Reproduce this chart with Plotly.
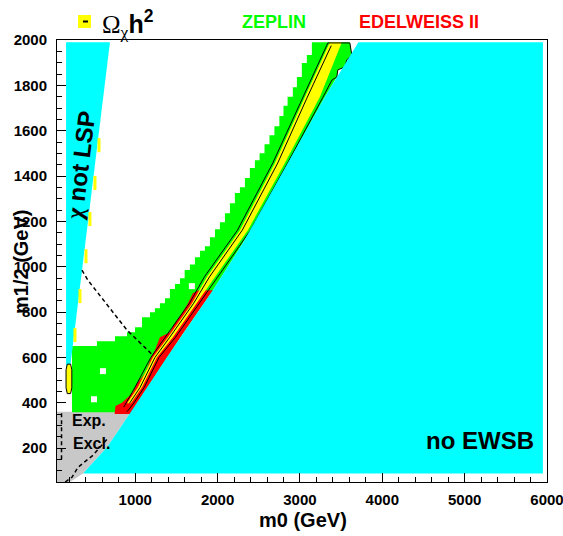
import plotly.graph_objects as go

# ---------------- data (m0, m1/2 in GeV) ----------------
# no-EWSB boundary, bottom -> top
EWSB_M0 = [366, 657, 839, 1021, 1203, 1385, 1567, 1943, 2307, 2878, 3302, 3710]
EWSB_M12 = [88, 203, 300, 397, 499, 600, 698, 896, 1104, 1470, 1748, 1990]
EWSB_RIGHT_M0 = 5950
EWSB_BOTTOM_M12 = 88

# chi not LSP wedge
NOTLSP_M0 = [160, 160, 693, 353, 208]
NOTLSP_M12 = [552, 1990, 1990, 985, 552]

# experimental exclusion (grey)
EXCL_M0 = [50, 50, 950, 839, 657, 366, 208]
EXCL_M12 = [50, 360, 360, 300, 203, 88, 50]

# ZEPLIN region: staircase upper-left edge steps
ZEP_STEP_M0 = [232, 535, 754, 900, 997, 1082, 1179, 1239, 1300, 1361, 1421, 1482,
               1543, 1600, 1664, 1725, 1786, 1846, 1907, 1968, 2028, 2089, 2150,
               2210, 2271, 2332, 2392, 2453, 2510, 2570, 2630, 2690, 2750, 2800,
               2850, 2914, 2963, 3023, 3084, 3145]
ZEP_STEP_M12 = [650, 671, 693, 711, 733, 777, 799, 817, 839, 861, 901, 923,
                949, 985, 1010, 1042, 1070, 1090, 1130, 1165, 1196, 1236, 1280,
                1325, 1350, 1391, 1435, 1470, 1500, 1540, 1580, 1620, 1665, 1710,
                1750, 1792, 1837, 1898, 1934, 1990]
ZEP_BOTTOM_M12 = 358
ZEP_RIGHT_M0 = [3606, 3630, 3570, 3545, 3460, 3448, 3302, 2878, 2307, 1943, 1567, 1385, 1203, 1021, 950]
ZEP_RIGHT_M12 = [1990, 1934, 1912, 1881, 1868, 1837, 1748, 1470, 1104, 896, 698, 600, 499, 397, 358]

# EDELWEISS II region
EDEL_M0 = [750, 760, 839, 930, 972, 1021, 1100, 1142, 1179, 1239, 1300, 1360, 1421, 1482,
           1567, 1640, 1700, 1760, 1943, 1567, 1385, 1203, 1021, 950]
EDEL_M12 = [350, 385, 400, 430, 445, 486, 520, 545, 587, 631, 689, 700, 711, 751,
            795, 839, 883, 895, 896, 698, 600, 499, 397, 350]

# relic density band (Omega h^2)
OMEGA_M0 = [900, 1033, 1215, 1397, 1689, 1870, 2271, 2696, 3060, 3363,
            3509, 3242, 2817, 2368, 1968, 1749, 1458, 1264, 1082, 948]
OMEGA_M12 = [397, 468, 600, 689, 839, 954, 1161, 1457, 1748, 1990,
             1990, 1748, 1457, 1161, 954, 839, 689, 600, 468, 397]

# contour lines around the band
CONT_OUT_M0 = [860, 1000, 1190, 1370, 1660, 1840, 2240, 2670, 3035, 3339, 3606, 3630, 3570,
               3545, 3460, 3448, 3388, 3280, 2850, 2400, 2000, 1780, 1490, 1290, 1110, 980, 900]
CONT_OUT_M12 = [380, 470, 600, 690, 840, 955, 1160, 1457, 1748, 1987, 1987, 1934, 1912,
                1881, 1868, 1837, 1823, 1748, 1457, 1161, 954, 839, 689, 600, 468, 397, 360]
CONT_IN_M0 = [930, 1060, 1240, 1420, 1710, 1900, 2300, 2730, 3090, 3380]
CONT_IN_M12 = [397, 468, 600, 689, 839, 954, 1161, 1457, 1748, 1975]

# dashed contours
DASH1_M0 = [353, 426, 900, 1215]
DASH1_M12 = [985, 940, 720, 609]
DASH2_M0 = [150, 232, 305, 487, 669]
DASH2_M12 = [50, 71, 115, 168, 243]
DASH3_M0 = [105, 105]
DASH3_M12 = [150, 355]

# small holes in ZEPLIN region
HOLE_M0 = [608, 499, 1688]
HOLE_M12 = [539, 415, 914]

# small Omega h^2 points near the chi-not-LSP wedge
OMPT_M0 = [560, 511, 450, 402, 329, 268]
OMPT_M12 = [1536, 1369, 1210, 1046, 870, 698]
BLOB_M0 = [175, 160, 160, 175, 215, 230, 230, 215, 175]
BLOB_M12 = [440, 465, 545, 570, 570, 545, 465, 440, 440]

X_TICKS = [1000, 2000, 3000, 4000, 5000, 6000]
Y_TICKS = [200, 400, 600, 800, 1000, 1200, 1400, 1600, 1800, 2000]

CYAN = "#00ffff"
GREEN = "#00ff00"
YELLOW = "#ffff00"
RED = "#ff0000"
GREY = "#c8c8c8"

# ---------------- build polygons ----------------
zx = [ZEP_STEP_M0[0]]
zy = [ZEP_BOTTOM_M12]
prev_y = ZEP_BOTTOM_M12
for i in range(len(ZEP_STEP_M0)):
    zx += [ZEP_STEP_M0[i], ZEP_STEP_M0[i]]
    zy += [prev_y, ZEP_STEP_M12[i]]
    prev_y = ZEP_STEP_M12[i]
zx += ZEP_RIGHT_M0
zy += ZEP_RIGHT_M12

ewsb_x = EWSB_M0 + [EWSB_RIGHT_M0, EWSB_RIGHT_M0]
ewsb_y = EWSB_M12 + [EWSB_M12[-1], EWSB_BOTTOM_M12]

fig = go.Figure()


def poly(x, y, color, line=None):
    fig.add_trace(go.Scatter(
        x=x, y=y, fill="toself", fillcolor=color, mode="lines",
        line=line if line else dict(width=0, color=color),
        hoverinfo="skip", showlegend=False))


poly(EXCL_M0, EXCL_M12, GREY)
poly(zx, zy, GREEN)
poly(EDEL_M0, EDEL_M12, RED)
poly(OMEGA_M0, OMEGA_M12, YELLOW)

fig.add_trace(go.Scatter(x=HOLE_M0, y=HOLE_M12, mode="markers",
                         marker=dict(symbol="square", size=6, color="white"),
                         hoverinfo="skip", showlegend=False))

for cx, cy in [(CONT_OUT_M0, CONT_OUT_M12), (CONT_IN_M0, CONT_IN_M12)]:
    fig.add_trace(go.Scatter(x=cx, y=cy, mode="lines",
                             line=dict(color="black", width=1),
                             hoverinfo="skip", showlegend=False))

poly(ewsb_x, ewsb_y, CYAN)
poly(NOTLSP_M0, NOTLSP_M12, CYAN)

for dx, dy in [(DASH1_M0, DASH1_M12), (DASH2_M0, DASH2_M12), (DASH3_M0, DASH3_M12)]:
    fig.add_trace(go.Scatter(x=dx, y=dy, mode="lines",
                             line=dict(color="black", width=1.5, dash="4px,3px"),
                             hoverinfo="skip", showlegend=False))

fig.add_trace(go.Scatter(x=OMPT_M0, y=OMPT_M12, mode="markers",
                         marker=dict(symbol="line-ns-open", size=10, color=YELLOW,
                                     line=dict(color=YELLOW, width=3)),
                         hoverinfo="skip", showlegend=False))
poly(BLOB_M0, BLOB_M12, YELLOW, line=dict(color="black", width=1))

# ---------------- layout ----------------
L, R, T, B = 57, 16, 40, 54
W, H = 563, 536
PW, PH = W - L - R, H - T - B


def px(xp):
    return (xp - L) / PW


def py(yp):
    return (H - B - yp) / PH


axis_common = dict(
    showline=True, linecolor="black", linewidth=1, mirror=True, automargin=False,
    showgrid=False, zeroline=False, ticks="inside", ticklen=9,
    tickwidth=1, tickcolor="black", ticklabeloverflow="allow",
    tickfont=dict(family="Liberation Sans", size=15, color="black", weight="bold"),
)

fig.update_layout(
    width=W, height=H,
    margin=dict(l=L, r=R, t=T, b=B, autoexpand=False),
    plot_bgcolor="white", paper_bgcolor="white",
    xaxis=dict(range=[50, 6000], tickvals=X_TICKS, ticklabelstandoff=4,
               minor=dict(dtick=200, tick0=0, ticks="inside", ticklen=5, tickcolor="black"),
               **axis_common),
    yaxis=dict(range=[50, 2000], tickvals=Y_TICKS, ticklabelstandoff=6,
               minor=dict(dtick=50, tick0=0, ticks="inside", ticklen=5, tickcolor="black"),
               **axis_common),
    font=dict(family="Liberation Sans", color="black"),
)

bold = dict(family="Liberation Sans", color="black", weight="bold")
C = dict(xanchor="center", yanchor="middle", showarrow=False)
ann = [
    dict(x=px(303), y=py(520), xref="paper", yref="paper", text="m0 (GeV)",
         font=dict(size=20, **bold), **C),
    dict(x=px(21), y=py(262), xref="paper", yref="paper", text="m1/2 (GeV)",
         textangle=-90, font=dict(size=20, **bold), **C),
    dict(x=329, y=1448, xref="x", yref="y",
         text='<span style="font-family:Liberation Serif">χ</span> not LSP', textangle=-83,
         font=dict(size=24, **bold), **C),
    dict(x=208, y=322, xref="x", yref="y", text="Exp.", xanchor="left", yanchor="middle",
         showarrow=False, font=dict(size=16, **bold)),
    dict(x=215, y=221, xref="x", yref="y", text="Excl.", xanchor="left", yanchor="middle",
         showarrow=False, font=dict(size=16, **bold)),
    dict(x=5183, y=234, xref="x", yref="y", text="no EWSB",
         font=dict(size=24, **bold), **C),
    dict(x=px(274), y=py(22), xref="paper", yref="paper", text="ZEPLIN",
         font=dict(family="Liberation Sans", size=18, color=GREEN, weight="bold"), **C),
    dict(x=px(419), y=py(22), xref="paper", yref="paper", text="EDELWEISS II",
         font=dict(family="Liberation Sans", size=18, color=RED, weight="bold"), **C),
    dict(x=px(100), y=py(24), xref="paper", yref="paper", xanchor="left", yanchor="middle",
         showarrow=False,
         text='<span style="font-family:Liberation Serif">Ω<sub>χ</sub></span><b>h<sup>2</sup></b>',
         font=dict(family="Liberation Sans", size=25, color="black")),
]
fig.update_layout(annotations=ann)

fig.update_layout(shapes=[
    dict(type="rect", xref="paper", yref="paper", x0=px(78), x1=px(91), y0=py(28), y1=py(15),
         fillcolor=YELLOW, line=dict(width=0)),
    dict(type="line", xref="paper", yref="paper", x0=px(83), x1=px(88), y0=py(21.5), y1=py(21.5),
         line=dict(color="black", width=2)),
])

fig.write_html("out.html", config={"displayModeBar": False},
               post_script="document.body.style.margin='0';document.body.style.padding='0';")
